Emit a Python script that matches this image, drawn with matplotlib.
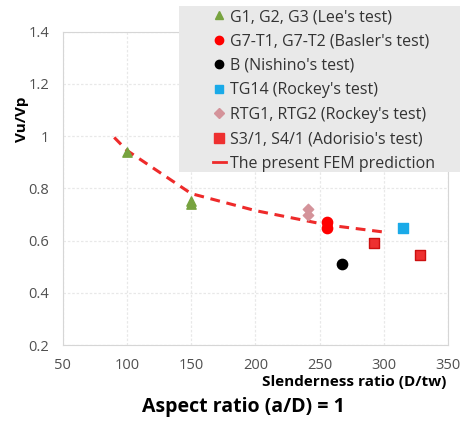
import matplotlib
matplotlib.use("Agg")
import matplotlib.pyplot as plt
from matplotlib.lines import Line2D
from matplotlib.patches import Rectangle

plt.rcParams["font.family"] = ["Open Sans", "DejaVu Sans"]

# test data
leeX = [100, 150, 150]
leeY = [0.94, 0.74, 0.75]
baslerX = [256, 256]
baslerY = [0.67, 0.65]
nishinoX = [267]
nishinoY = [0.51]
tg14X = [315]
tg14Y = [0.647]
rtgX = [241, 241]
rtgY = [0.72, 0.70]
adorisioX = [292, 328]
adorisioY = [0.59, 0.545]
femX = [90, 100, 150, 200, 256, 300]
femY = [0.995, 0.945, 0.78, 0.715, 0.66, 0.633]

xTicks = [50, 100, 150, 200, 250, 300, 350]
yTicks = [0.2, 0.4, 0.6, 0.8, 1.0, 1.2, 1.4]
yTickLabels = ["0.2", "0.4", "0.6", "0.8", "1", "1.2", "1.4"]

labels = [
    "G1, G2, G3 (Lee's test)",
    "G7-T1, G7-T2 (Basler's test)",
    "B (Nishino's test)",
    "TG14 (Rockey's test)",
    "RTG1, RTG2 (Rockey's test)",
    "S3/1, S4/1 (Adorisio's test)",
    "The present FEM prediction",
]

fig = plt.figure(figsize=(4.62, 4.21), dpi=100)
axis = fig.add_axes([0.136, 0.18, 0.834, 0.745])

axis.plot(femX, femY, color="#ee2a2a", linestyle=(0, (3.2, 2.2)), linewidth=2.2, zorder=3)
axis.scatter(leeX, leeY, marker="^", s=45, color="#77a33f", zorder=4)
axis.scatter(baslerX, baslerY, marker="o", s=55, color="#ff0000", zorder=4)
axis.scatter(nishinoX, nishinoY, marker="o", s=55, color="black", zorder=4)
axis.scatter(tg14X, tg14Y, marker="s", s=45, color="#1aaae8", zorder=4)
axis.scatter(rtgX, rtgY, marker="D", s=28, color="#d4939a", zorder=4)
axis.scatter(adorisioX, adorisioY, marker="s", s=55, color="#ee3030",
             edgecolors="#cc1010", linewidths=1, zorder=4)

axis.set_xlim(50, 350)
axis.set_ylim(0.2, 1.4)
axis.set_xticks(xTicks)
axis.set_yticks(yTicks)
axis.set_yticklabels(yTickLabels)
axis.tick_params(axis="y", length=0, labelsize=10.5, labelcolor="#505050", pad=10)
axis.tick_params(axis="x", length=0, labelsize=10.5, labelcolor="#505050", pad=9)
axis.grid(color="#e8e8e8", linewidth=0.9, linestyle=(0, (2, 1.5)))
for side in axis.spines.values():
    side.set_color("#d6d6d6")

axis.set_ylabel("Vu/Vp", fontsize=11, fontweight="bold")
axis.yaxis.set_label_coords(-0.088, 0.72)
axis.set_xlabel("Slenderness ratio (D/tw)", fontsize=11, fontweight="bold")
axis.xaxis.set_label_coords(0.995, -0.118)
axis.xaxis.label.set_horizontalalignment("right")
axis.xaxis.label.set_verticalalignment("center")
fig.text(0.526, 1 - 407 / 421, "Aspect ratio (a/D) = 1", fontsize=14,
         fontweight="bold", ha="center", va="center")

# legend background as in the source figure, wider than the entries
fig.patches.append(Rectangle((179 / 462, 1 - 172 / 421), 281 / 462, 166 / 421,
                             transform=fig.transFigure, facecolor="#e9e9e9",
                             edgecolor="none", zorder=5))

handles = [
    Line2D([], [], marker="^", linestyle="", color="#77a33f", markersize=6),
    Line2D([], [], marker="o", linestyle="", color="#ff0000", markersize=6),
    Line2D([], [], marker="o", linestyle="", color="black", markersize=6),
    Line2D([], [], marker="s", linestyle="", color="#1aaae8", markersize=5.5),
    Line2D([], [], marker="D", linestyle="", color="#d4939a", markersize=5),
    Line2D([], [], marker="s", linestyle="", color="#ee3030", markersize=6.5),
    Line2D([], [], color="#ee2a2a", linewidth=2, linestyle="-"),
]
legend = fig.legend(
    handles, labels,
    loc="upper left", bbox_to_anchor=(213 / 462, 1 - 9 / 421),
    fontsize=11.5, frameon=False,
    handlelength=0.8, handletextpad=0.25, labelspacing=0.53,
    borderpad=0, borderaxespad=0,
)
legend.set_zorder(6)
for text in legend.get_texts():
    text.set_color("#333333")

fig.savefig("out.png", dpi=100)
